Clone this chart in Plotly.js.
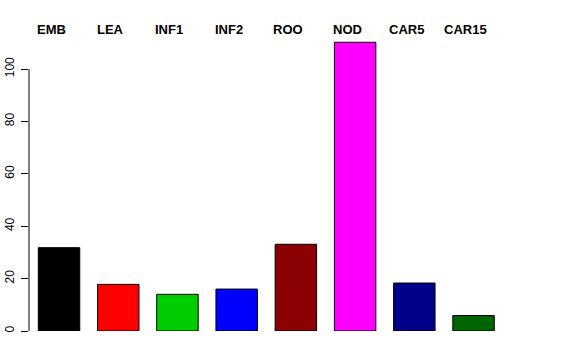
<!DOCTYPE html>
<html>
<head>
<meta charset="utf-8">
<script src="https://cdn.plot.ly/plotly-3.0.1.min.js"></script>
<style>html,body{margin:0;padding:0;background:#fff;}#chart{width:576px;height:360px;}</style>
</head>
<body>
<div id="chart"></div>
<script>
const categories = ["EMB", "LEA", "INF1", "INF2", "ROO", "NOD", "CAR5", "CAR15"];
const values = [31.8, 17.8, 14.0, 16.0, 33.1, 110.2, 18.3, 5.9];
const barColors = ["#000000", "#FF0000", "#00CD00", "#0000FF", "#8B0000", "#FF00FF", "#00008B", "#006400"];
const yTicks = [0, 20, 40, 60, 80, 100];

const xs = categories.map((c, i) => i);

const trace = {
  type: "bar",
  x: xs,
  y: values,
  width: 0.7,
  marker: {color: barColors, line: {color: "#000000", width: 1}},
  hoverinfo: "skip"
};

const H = 360, T = 40, B = 29;

const annotations = categories.map((c, i) => ({
  x: i, xref: "x", y: (H - B - 29.7) / (H - T - B), yref: "paper", yanchor: "middle",
  xanchor: "center", xshift: -8, showarrow: false,
  text: "<b>" + c + "</b>",
  font: {family: "Liberation Sans, Arial, sans-serif", size: 13, color: "#000"}
}));

const layout = {
  width: 576, height: 360,
  margin: {l: 29, r: 16, t: T, b: B},
  paper_bgcolor: "#fff", plot_bgcolor: "#fff",
  showlegend: false,
  xaxis: {range: [-0.507, 8.46], showline: false, showgrid: false, zeroline: false,
          showticklabels: false, ticks: ""},
  yaxis: {range: [0, 111.07], showgrid: false, zeroline: false, showline: false,
          tickmode: "array", tickvals: yTicks, ticktext: yTicks.map(String),
          ticks: "outside", ticklen: 7, tickwidth: 1, tickcolor: "#000",
          tickangle: -90, ticklabelstandoff: 2,
          tickfont: {family: "Liberation Sans, Arial, sans-serif", size: 12, color: "#000"}},
  shapes: [{type: "line", xref: "paper", yref: "y", x0: 0, x1: 0, y0: yTicks[0], y1: yTicks[yTicks.length-1],
            line: {color: "#000", width: 1}}],
  annotations: annotations
};

Plotly.newPlot("chart", [trace], layout, {displayModeBar: false, staticPlot: true});
</script>
</body>
</html>
